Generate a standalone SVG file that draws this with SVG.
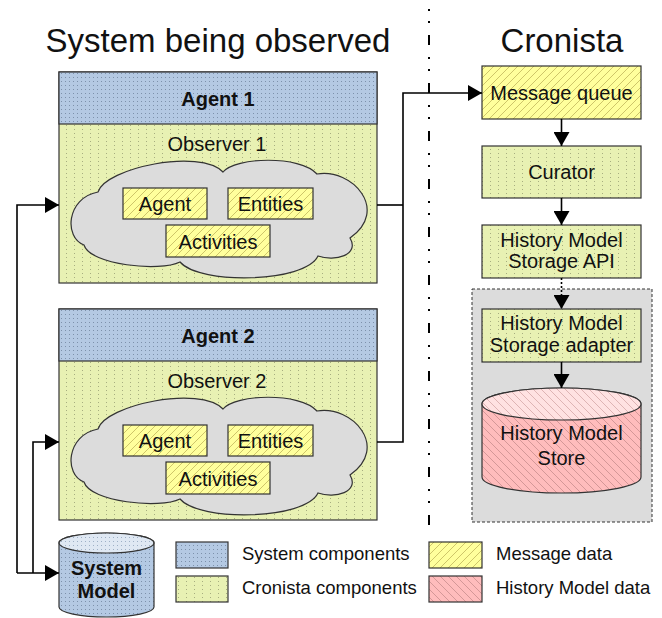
<svg xmlns="http://www.w3.org/2000/svg" xmlns:xlink="http://www.w3.org/1999/xlink" width="662" height="618" viewBox="0 0 662 618">
  <style>
    text { font-family: "Liberation Sans", Arial, sans-serif; fill: #111; }
    .title { font-size: 33px; text-anchor: middle; }
    .lbl { font-size: 20px; text-anchor: middle; }
    .bold { font-weight: bold; }
    .leg { font-size: 18.5px; }
    .box { stroke: #333; stroke-width: 1.2; }
    .sys { fill: url(#pBlue); }
    .cro { fill: url(#pGreen); }
    .msg { fill: url(#pYellow); }
    .hist { fill: url(#pRed); }
    .wire { fill: none; stroke: #000; stroke-width: 1.6; }
    .arrow { marker-end: url(#tip); }
  </style>
  <defs>
    <!-- fill textures -->
    <pattern id="pBlue" patternUnits="userSpaceOnUse" width="4" height="4">
      <rect width="4" height="4" fill="#b4c9e3"/>
      <rect x="1" y="1" width="1" height="1" fill="#7d91ab"/>
    </pattern>
    <pattern id="pBlueTop" patternUnits="userSpaceOnUse" width="4" height="4">
      <rect width="4" height="4" fill="#dfe8f3"/>
      <rect x="1" y="1" width="1" height="1" fill="#9eb0c6"/>
    </pattern>
    <pattern id="pGreen" patternUnits="userSpaceOnUse" width="8" height="4">
      <rect width="8" height="4" fill="#e8f1b3"/>
      <rect x="2" y="1" width="1" height="1" fill="#a7ae80"/>
    </pattern>
    <pattern id="pYellow" patternUnits="userSpaceOnUse" width="8" height="8">
      <rect width="8" height="8" fill="#ffff9c"/>
      <path d="M-2,2 L2,-2 M0,8 L8,0 M6,10 L10,6" stroke="#c2b65c" stroke-width="0.8"/>
    </pattern>
    <pattern id="pRed" patternUnits="userSpaceOnUse" width="8" height="8">
      <rect width="8" height="8" fill="#ffbcbc"/>
      <path d="M-2,6 L2,10 M0,0 L8,8 M6,-2 L10,2" stroke="#c98e8e" stroke-width="0.8"/>
    </pattern>
    <pattern id="pRedTop" patternUnits="userSpaceOnUse" width="8" height="8">
      <rect width="8" height="8" fill="#ffe2e2"/>
      <path d="M-2,6 L2,10 M0,0 L8,8 M6,-2 L10,2" stroke="#d6a8a8" stroke-width="0.8"/>
    </pattern>
    <marker id="tip" markerUnits="userSpaceOnUse" markerWidth="14" markerHeight="16" refX="14" refY="8" orient="auto">
      <path d="M0,0 L14,8 L0,16 Z" fill="#000"/>
    </marker>
    <!-- cloud outline shared by both observers -->
    <path id="cloud" d="M98,192 C105,168 200,148 223,172 C235,157 300,155 317,174 C352,168 390,210 350,238 C360,255 335,262 318,256 C305,283 200,285 180,262 C160,272 90,265 84,245 C64,238 66,198 98,192 Z" fill="#dcdcdc" stroke="#333" stroke-width="1.2"/>
  </defs>

  <!-- headings and separator -->
  <text class="title" x="218" y="52">System being observed</text>
  <text class="title" x="562" y="52">Cronista</text>
  <line x1="429" y1="-13" x2="429" y2="527" stroke="#000" stroke-width="2" stroke-dasharray="10 12 2 10 2 12"/>

  <!-- Agent 1 with its observer -->
  <g id="agent1">
    <rect class="box cro" x="59" y="72" width="318" height="211"/>
    <rect class="box sys" x="59" y="72" width="318" height="52"/>
    <text class="lbl bold" x="218" y="106">Agent 1</text>
    <text class="lbl" x="217" y="151">Observer 1</text>
    <use href="#cloud"/>
    <rect class="box msg" x="123" y="188" width="84" height="31"/>
    <text class="lbl" x="165" y="211">Agent</text>
    <rect class="box msg" x="228" y="188" width="85" height="31"/>
    <text class="lbl" x="270.5" y="211">Entities</text>
    <rect class="box msg" x="166" y="225" width="104" height="32"/>
    <text class="lbl" x="218" y="249">Activities</text>
  </g>

  <!-- Agent 2 with its observer -->
  <g id="agent2" transform="translate(0,237)">
    <rect class="box cro" x="59" y="72" width="318" height="211"/>
    <rect class="box sys" x="59" y="72" width="318" height="52"/>
    <text class="lbl bold" x="218" y="106">Agent 2</text>
    <text class="lbl" x="217" y="151">Observer 2</text>
    <use href="#cloud"/>
    <rect class="box msg" x="123" y="188" width="84" height="31"/>
    <text class="lbl" x="165" y="211">Agent</text>
    <rect class="box msg" x="228" y="188" width="85" height="31"/>
    <text class="lbl" x="270.5" y="211">Entities</text>
    <rect class="box msg" x="166" y="225" width="104" height="32"/>
    <text class="lbl" x="218" y="249">Activities</text>
  </g>

  <!-- System Model store -->
  <g id="system-model">
    <path class="box sys" d="M59,543 A47.5,10 0 0 1 154,543 V607 A47.5,10 0 0 1 59,607 Z"/>
    <ellipse class="box" cx="106.5" cy="543" rx="47.5" ry="10" fill="url(#pBlueTop)"/>
    <text class="lbl bold" x="106.5" y="575">System</text>
    <text class="lbl bold" x="106.5" y="598">Model</text>
  </g>

  <!-- Cronista pipeline -->
  <g id="message-queue">
    <rect class="box msg" x="482" y="66" width="159" height="53"/>
    <text class="lbl" x="561.5" y="99.5">Message queue</text>
  </g>
  <g id="curator">
    <rect class="box cro" x="482" y="146" width="159" height="52"/>
    <text class="lbl" x="561.5" y="179">Curator</text>
  </g>
  <g id="storage-api">
    <rect class="box cro" x="482" y="225" width="159" height="53"/>
    <text class="lbl" x="561.5" y="247">History Model</text>
    <text class="lbl" x="561.5" y="268">Storage API</text>
  </g>
  <g id="storage-backend">
    <rect x="472" y="289" width="180" height="233" fill="#dcdcdc" stroke="#333" stroke-width="1" stroke-dasharray="3 2"/>
    <g id="storage-adapter">
      <rect class="box cro" x="482" y="309" width="159" height="53"/>
      <text class="lbl" x="561.5" y="330">History Model</text>
      <text class="lbl" x="561.5" y="352">Storage adapter</text>
    </g>
    <g id="history-store">
      <path class="box hist" d="M482,404 A79.5,16 0 0 1 641,404 V477 A79.5,16 0 0 1 482,477 Z"/>
      <ellipse class="box" cx="561.5" cy="404" rx="79.5" ry="16" fill="url(#pRedTop)"/>
      <text class="lbl" x="561.5" y="440">History Model</text>
      <text class="lbl" x="561.5" y="465">Store</text>
    </g>
  </g>

  <!-- connectors -->
  <g id="connectors">
    <path class="wire arrow" d="M17,573 V205 H59"/>
    <path class="wire arrow" d="M33,573 V442 H59"/>
    <path class="wire arrow" d="M17,573 H59"/>
    <path class="wire" d="M377,205 H403"/>
    <path class="wire arrow" d="M377,442 H403 V93 H482"/>
    <path class="wire arrow" d="M561.5,119 V146"/>
    <path class="wire arrow" d="M561.5,198 V225"/>
    <path class="wire arrow" d="M561.5,278 V309" stroke-dasharray="2 2"/>
    <path class="wire arrow" d="M561.5,362 V388"/>
  </g>

  <!-- legend -->
  <g id="legend">
    <rect class="box sys" x="176" y="542" width="52" height="26"/>
    <text class="leg" x="242" y="560">System components</text>
    <rect class="box cro" x="176" y="576" width="52" height="26"/>
    <text class="leg" x="242" y="594">Cronista components</text>
    <rect class="box msg" x="429" y="542" width="53" height="26"/>
    <text class="leg" x="496" y="560">Message data</text>
    <rect class="box hist" x="429" y="576" width="53" height="26"/>
    <text class="leg" x="496" y="594">History Model data</text>
  </g>
</svg>
